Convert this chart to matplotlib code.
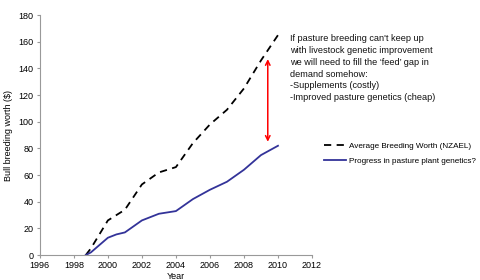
import matplotlib.pyplot as plt

plt.rcParams['font.family'] = ['Liberation Sans', 'DejaVu Sans']

years = [1998.7, 1999, 2000, 2000.5, 2001, 2002, 2003, 2004, 2005, 2006, 2007, 2008, 2009, 2010]
breeding_worth = [0, 5, 26, 30, 34, 53, 62, 66, 84, 98, 109, 125, 146, 165]
pasture_progress = [0, 2, 13, 15.5, 17, 26, 31, 33, 42, 49, 55, 64, 75, 82]

arrow_year = 2009.4
arrow_low, arrow_high = 85, 147

note = ("If pasture breeding can't keep up\n"
        "with livestock genetic improvement\n"
        "we will need to fill the \u2018feed\u2019 gap in\n"
        "demand somehow:\n"
        "-Supplements (costly)\n"
        "-Improved pasture genetics (cheap)")

fig = plt.figure(figsize=(4.8, 2.8), dpi=100)
ax = fig.add_axes([0.083, 0.089, 0.567, 0.857])

ax.plot(years, breeding_worth, color='black', linestyle=(0, (4, 3)), linewidth=1.3,
        label='Average Breeding Worth (NZAEL)')
ax.plot(years, pasture_progress, color='#333399', linewidth=1.3,
        label='Progress in pasture plant genetics?')

ax.annotate('', xy=(arrow_year, arrow_high), xytext=(arrow_year, arrow_low),
            arrowprops=dict(arrowstyle='<->', color='red', lw=1.1,
                            mutation_scale=8, shrinkA=0, shrinkB=0))

ax.set_xlim(1996, 2012)
ax.set_ylim(0, 180)
ax.set_xticks(range(1996, 2013, 2))
ax.set_yticks(range(0, 181, 20))
ax.tick_params(labelsize=6.5, length=2.5, color='#999999', pad=2)
for s in ['top', 'right']:
    ax.spines[s].set_visible(False)
for s in ['left', 'bottom']:
    ax.spines[s].set_color('#999999')
    ax.spines[s].set_linewidth(0.8)

ax.set_xlabel('Year', fontsize=6.5, labelpad=1)
ax.set_ylabel('Bull breeding worth ($)', fontsize=6.5, labelpad=4)

fig.text(0.604, 0.878, note, fontsize=6.6, va='top', ha='left', linespacing=1.4,
         color='#111111')

fig.legend(loc='upper left', bbox_to_anchor=(0.668, 0.505), frameon=False,
           fontsize=5.9, handlelength=2.7, handletextpad=0.4, labelspacing=0.9,
           borderaxespad=0)

fig.savefig('out.png', dpi=100)
